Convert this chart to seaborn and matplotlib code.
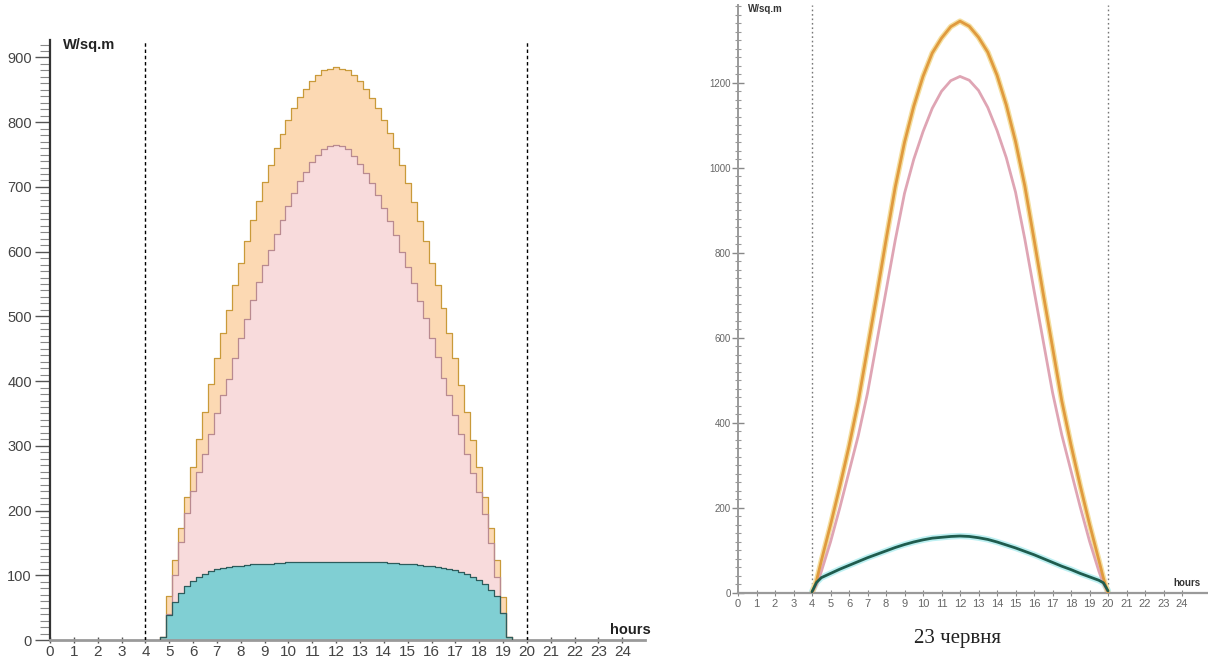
import numpy as np
import pandas as pd
import matplotlib
matplotlib.use("Agg")
import matplotlib.pyplot as plt
import seaborn as sns
from matplotlib.ticker import MultipleLocator

# ---------------- data ----------------
hour_ticks = list(range(0, 25))

# left panel: quarter-hour bins (bin start times)
bin_start = np.arange(4.625, 19.126, 0.25)
step_total = [5,
              68, 124, 173, 221, 268, 311, 353, 395, 435, 474, 510, 549, 583, 616,
              649, 679, 708, 734, 760, 782, 804, 822, 839, 851, 863, 873, 880, 882,
              885,
              882, 880, 873, 863, 851, 838, 822, 804, 783, 760, 734, 706, 677, 647,
              616, 583, 549, 513, 474, 435, 394, 353, 309, 268, 221, 173, 124, 67,
              5]
step_diffuse_direct = [5,
              40, 100, 152, 196, 230, 260, 288, 318, 350, 378, 403, 436, 466, 496,
              526, 553, 580, 602, 627, 649, 671, 690, 709, 723, 738, 749, 758, 763,
              765,
              763, 758, 748, 736, 722, 706, 688, 668, 647, 625, 600, 577, 551, 524,
              497, 466, 438, 405, 378, 348, 318, 288, 258, 228, 195, 150, 98, 42,
              5]
step_diffuse = [5,
              39, 59, 72, 83, 91, 97, 102, 106, 109, 111, 113, 114, 115, 116,
              117, 117, 118, 118, 119, 119, 120, 120, 120, 120, 121, 121, 121, 121,
              121,
              121, 121, 121, 121, 120, 120, 120, 120, 119, 119, 118, 118, 117, 116,
              115, 114, 113, 112, 110, 108, 105, 102, 98, 93, 86, 78, 68, 42,
              5]

# right panel: smooth curves (23 June)
curve_hours = [4.0, 4.25, 4.5, 5.0, 5.5, 6.0, 6.5, 7.0, 7.5, 8.0, 8.5, 9.0, 9.5,
               10.0, 10.5, 11.0, 11.5, 12.0, 12.5, 13.0, 13.5, 14.0, 14.5, 15.0,
               15.5, 16.0, 16.5, 17.0, 17.5, 18.0, 18.5, 19.0, 19.5, 19.75, 20.0]
curve_total = [0, 30, 75, 160, 250, 345, 450, 575, 700, 830, 955, 1060, 1145,
               1215, 1270, 1305, 1332, 1345, 1333, 1307, 1272, 1218, 1148, 1062,
               958, 832, 703, 578, 452, 348, 252, 162, 78, 35, 0]
curve_pink = [0, 20, 50, 120, 200, 285, 370, 470, 590, 710, 830, 940, 1020,
              1085, 1140, 1180, 1205, 1215, 1206, 1182, 1142, 1088, 1024, 943,
              833, 712, 592, 472, 372, 287, 202, 122, 52, 22, 0]
curve_teal = [3, 25, 36, 46, 56, 65, 74, 83, 91, 99, 107, 114, 120,
              125, 129, 131, 133, 134, 133, 130, 126, 120, 113, 106,
              98, 90, 81, 72, 63, 55, 46, 38, 30, 24, 5]

y_label = "W/sq.m"
x_label = "hours"
caption = "23 червня"

# ---------------- style ----------------
sns.set_theme(style="white")
plt.rcParams["font.family"] = ["Liberation Sans", "DejaVu Sans"]

W, H = 1208, 659
fig = plt.figure(figsize=(W / 100, H / 100), dpi=100)

def px_axes(x0, x1, y_top, y_bot):
    return fig.add_axes([x0 / W, 1 - y_bot / H, (x1 - x0) / W, (y_bot - y_top) / H])

# ---------------- left panel ----------------
ax1 = px_axes(50, 645, 40, 640)
edges = np.append(bin_start, bin_start[-1] + 0.25)

def step_series(vals):
    return list(vals) + [vals[-1]]

layers = [
    (step_total, "#fcd9b3", "#c99a3a"),
    (step_diffuse_direct, "#f8dbdc", "#b98a90"),
    (step_diffuse, "#80cfd3", "#2d5c5c"),
]
for vals, fill_c, edge_c in layers:
    yv = step_series(vals)
    ax1.fill_between(edges, 0, yv, step="post", color=fill_c, lw=0, zorder=2)
    df = pd.DataFrame({"h": edges, "v": yv})
    sns.lineplot(data=df, x="h", y="v", ax=ax1, drawstyle="steps-post",
                 color=edge_c, lw=0.9, zorder=3, estimator=None, sort=False)
    ax1.plot([edges[0], edges[0]], [0, vals[0]], color=edge_c, lw=0.9, zorder=3)
    ax1.plot([edges[-1], edges[-1]], [0, vals[-1]], color=edge_c, lw=0.9, zorder=3)

for xv in (4, 20):
    ax1.axvline(xv, color="black", lw=1.0, ls=(0, (2.5, 2)), zorder=4)

ax1.set_xlim(0, 24.95)
ax1.set_ylim(0, 927)
ax1.set_xticks(hour_ticks)
ax1.set_xticklabels([str(h) for h in hour_ticks])
ax1.yaxis.set_major_locator(MultipleLocator(100))
ax1.yaxis.set_minor_locator(MultipleLocator(10))
ax1.set_xlabel("")
ax1.set_ylabel("")
for s in ("top", "right"):
    ax1.spines[s].set_visible(False)
ax1.spines["left"].set_color("#333333")
ax1.spines["left"].set_linewidth(1.6)
ax1.spines["bottom"].set_color("#9a9a9a")
ax1.spines["bottom"].set_linewidth(2.0)
ax1.tick_params(axis="y", which="major", direction="out", length=11, width=1,
                color="#555555", labelsize=10.5, labelcolor="#444444", pad=2,
                left=True)
ax1.tick_params(axis="y", which="minor", direction="out", length=7, width=0.8,
                color="#888888", left=True)
ax1.tick_params(axis="x", which="major", direction="inout", length=5, width=1,
                color="#555555", labelsize=11, labelcolor="#444444", pad=1,
                bottom=True)
ax1.set_zorder(2)

fig.text(63 / W, 1 - 45 / H, y_label, fontsize=10.5, fontweight="bold",
         color="#222222", ha="left", va="center")
fig.text(610 / W, 1 - 630 / H, x_label, fontsize=10.5, fontweight="bold",
         color="#222222", ha="left", va="center")

# ---------------- right panel ----------------
ax2 = px_axes(738, 1207, 5, 593)
for xv in (4, 20):
    ax2.axvline(xv, color="#777777", lw=1.0, ls=(0, (1.2, 2)), zorder=1)

curve_df = pd.DataFrame({"h": curve_hours, "total": curve_total,
                         "pink": curve_pink, "teal": curve_teal})
sns.lineplot(data=curve_df, x="h", y="teal", ax=ax2, color="#bdf0f2", lw=4.5,
             zorder=2, estimator=None, sort=False)
sns.lineplot(data=curve_df, x="h", y="total", ax=ax2, color="#f4dfa0", lw=4,
             zorder=2, estimator=None, sort=False)
sns.lineplot(data=curve_df, x="h", y="pink", ax=ax2, color="#dfa5b4", lw=2,
             zorder=3, estimator=None, sort=False)
sns.lineplot(data=curve_df, x="h", y="total", ax=ax2, color="#e09a3e", lw=2,
             zorder=3, estimator=None, sort=False)
sns.lineplot(data=curve_df, x="h", y="teal", ax=ax2, color="#1f5c4e", lw=2,
             zorder=4, estimator=None, sort=False)

ax2.set_xlim(0, 25.35)
ax2.set_ylim(0, 1383)
ax2.set_xticks(hour_ticks)
ax2.set_xticklabels([str(h) for h in hour_ticks])
ax2.yaxis.set_major_locator(MultipleLocator(200))
ax2.yaxis.set_minor_locator(MultipleLocator(20))
ax2.set_xlabel("")
ax2.set_ylabel("")
for s in ("top", "right"):
    ax2.spines[s].set_visible(False)
ax2.spines["left"].set_color("#9a9a9a")
ax2.spines["left"].set_linewidth(1.4)
ax2.spines["bottom"].set_color("#9a9a9a")
ax2.spines["bottom"].set_linewidth(1.6)
ax2.tick_params(axis="y", which="major", direction="inout", length=8, width=1,
                color="#888888", labelsize=7, labelcolor="#666666", pad=1,
                left=True)
ax2.tick_params(axis="y", which="minor", direction="inout", length=5, width=0.8,
                color="#999999", left=True)
ax2.tick_params(axis="x", which="major", direction="inout", length=4, width=0.8,
                color="#888888", labelsize=8, labelcolor="#666666", pad=2,
                bottom=True)

fig.text(748 / W, 1 - 9 / H, y_label, fontsize=7, fontweight="bold",
         color="#333333", ha="left", va="center")
fig.text(1173 / W, 1 - 583 / H, x_label, fontsize=7, fontweight="bold",
         color="#333333", ha="left", va="center")
fig.text(957 / W, 1 - 638 / H, caption, fontsize=15, color="#222222",
         family=["Liberation Serif", "DejaVu Serif"], ha="center", va="center")

fig.savefig("out.png", dpi=100)
